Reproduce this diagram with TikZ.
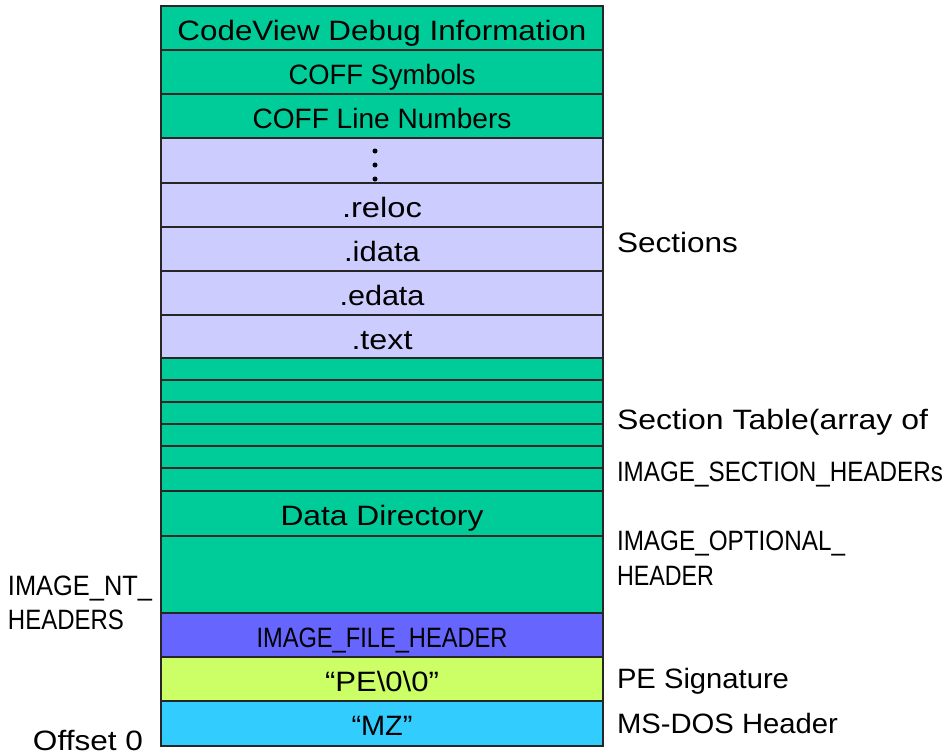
\documentclass[tikz,border=0pt]{standalone}
\usepackage{fontspec}
\usepackage{graphicx}
\setmainfont{Liberation Sans}
\definecolor{cgreen}{HTML}{00CC99}
\definecolor{clav}{HTML}{CCCCFF}
\definecolor{cblue}{HTML}{6666FF}
\definecolor{cyel}{HTML}{CCFF66}
\definecolor{ccyan}{HTML}{33CCFF}
\newcommand{\fw}[2]{\resizebox{#1pt}{\height}{#2}}
\begin{document}
\begin{tikzpicture}[x=1pt,y=-1pt,
  font=\fontsize{28}{33}\selectfont,
  row/.style={draw=black!85, line width=1.2pt, minimum width=442pt, inner sep=0pt, outer sep=0pt, text height=24pt, text depth=0pt},
  lbl/.style={anchor=base west, inner sep=0pt, outer sep=0pt},
  dotmark/.style={circle, fill=black, inner sep=0pt, minimum size=5pt}]
\useasboundingbox (0,0) rectangle (950,755);
% rows: center x = 382
\node[row, fill=cgreen, minimum height=44pt] (r1) at (382,28) {\fw{409}{CodeView Debug Information}};
\node[row, fill=cgreen, minimum height=44pt] (r2) at (382,72) {\fw{187}{COFF Symbols}};
\node[row, fill=cgreen, minimum height=44pt] (r3) at (382,116) {\fw{259}{COFF Line Numbers}};
\node[row, fill=clav, minimum height=45pt] (r4) at (382,160.5) {};
\node[row, fill=clav, minimum height=44pt] (r5) at (382,205) {\fw{80}{.reloc}};
\node[row, fill=clav, minimum height=44pt] (r6) at (382,249) {\fw{76}{.idata}};
\node[row, fill=clav, minimum height=44pt] (r7) at (382,293) {\fw{85}{.edata}};
\node[row, fill=clav, minimum height=44pt] (r8) at (382,337) {\fw{61}{.text}};
\node[row, fill=cgreen, minimum height=22pt] (t1) at (382,370) {};
\node[row, fill=cgreen, minimum height=22pt] (t2) at (382,392) {};
\node[row, fill=cgreen, minimum height=22pt] (t3) at (382,414) {};
\node[row, fill=cgreen, minimum height=22pt] (t4) at (382,436) {};
\node[row, fill=cgreen, minimum height=22pt] (t5) at (382,458) {};
\node[row, fill=cgreen, minimum height=22pt] (t6) at (382,480) {};
\node[row, fill=cgreen, minimum height=45pt] (r9) at (382,513.5) {\fw{203}{Data Directory}};
\node[row, fill=cgreen, minimum height=77pt] (r10) at (382,574.5) {};
\node[row, fill=cblue, minimum height=44pt] (r11) at (382,635) {\fw{251}{IMAGE\_FILE\_HEADER}};
\node[row, fill=cyel, minimum height=44pt] (r12) at (382,679) {\fw{114}{“PE\textbackslash 0\textbackslash 0”}};
\node[row, fill=ccyan, minimum height=45pt] (r13) at (382,723.5) {\fw{61}{“MZ”}};
% dots
\node[dotmark] (d1) at (375,151) {};
\node[dotmark] (d2) at (375,165) {};
\node[dotmark] (d3) at (375,179) {};
% side labels
\node[lbl] (lsec) at (617,252) {\fw{121}{Sections}};
\node[lbl] (lst1) at (617,429) {\fw{311}{Section Table(array of}};
\node[lbl] (lst2) at (617,481) {\fw{326}{IMAGE\_SECTION\_HEADERs}};
\node[lbl] (lop1) at (617,550) {\fw{228}{IMAGE\_OPTIONAL\_}};
\node[lbl] (lop2) at (617,585) {\fw{97}{HEADER}};
\node[lbl] (lnt1) at (8,595) {\fw{144}{IMAGE\_NT\_}};
\node[lbl] (lnt2) at (8,629) {\fw{116}{HEADERS}};
\node[lbl] (lpe) at (617,688) {\fw{172}{PE Signature}};
\node[lbl] (lms) at (617,733) {\fw{221}{MS-DOS Header}};
\node[lbl] (loff) at (33,750) {\fw{110}{Offset 0}};
\end{tikzpicture}
\end{document}
